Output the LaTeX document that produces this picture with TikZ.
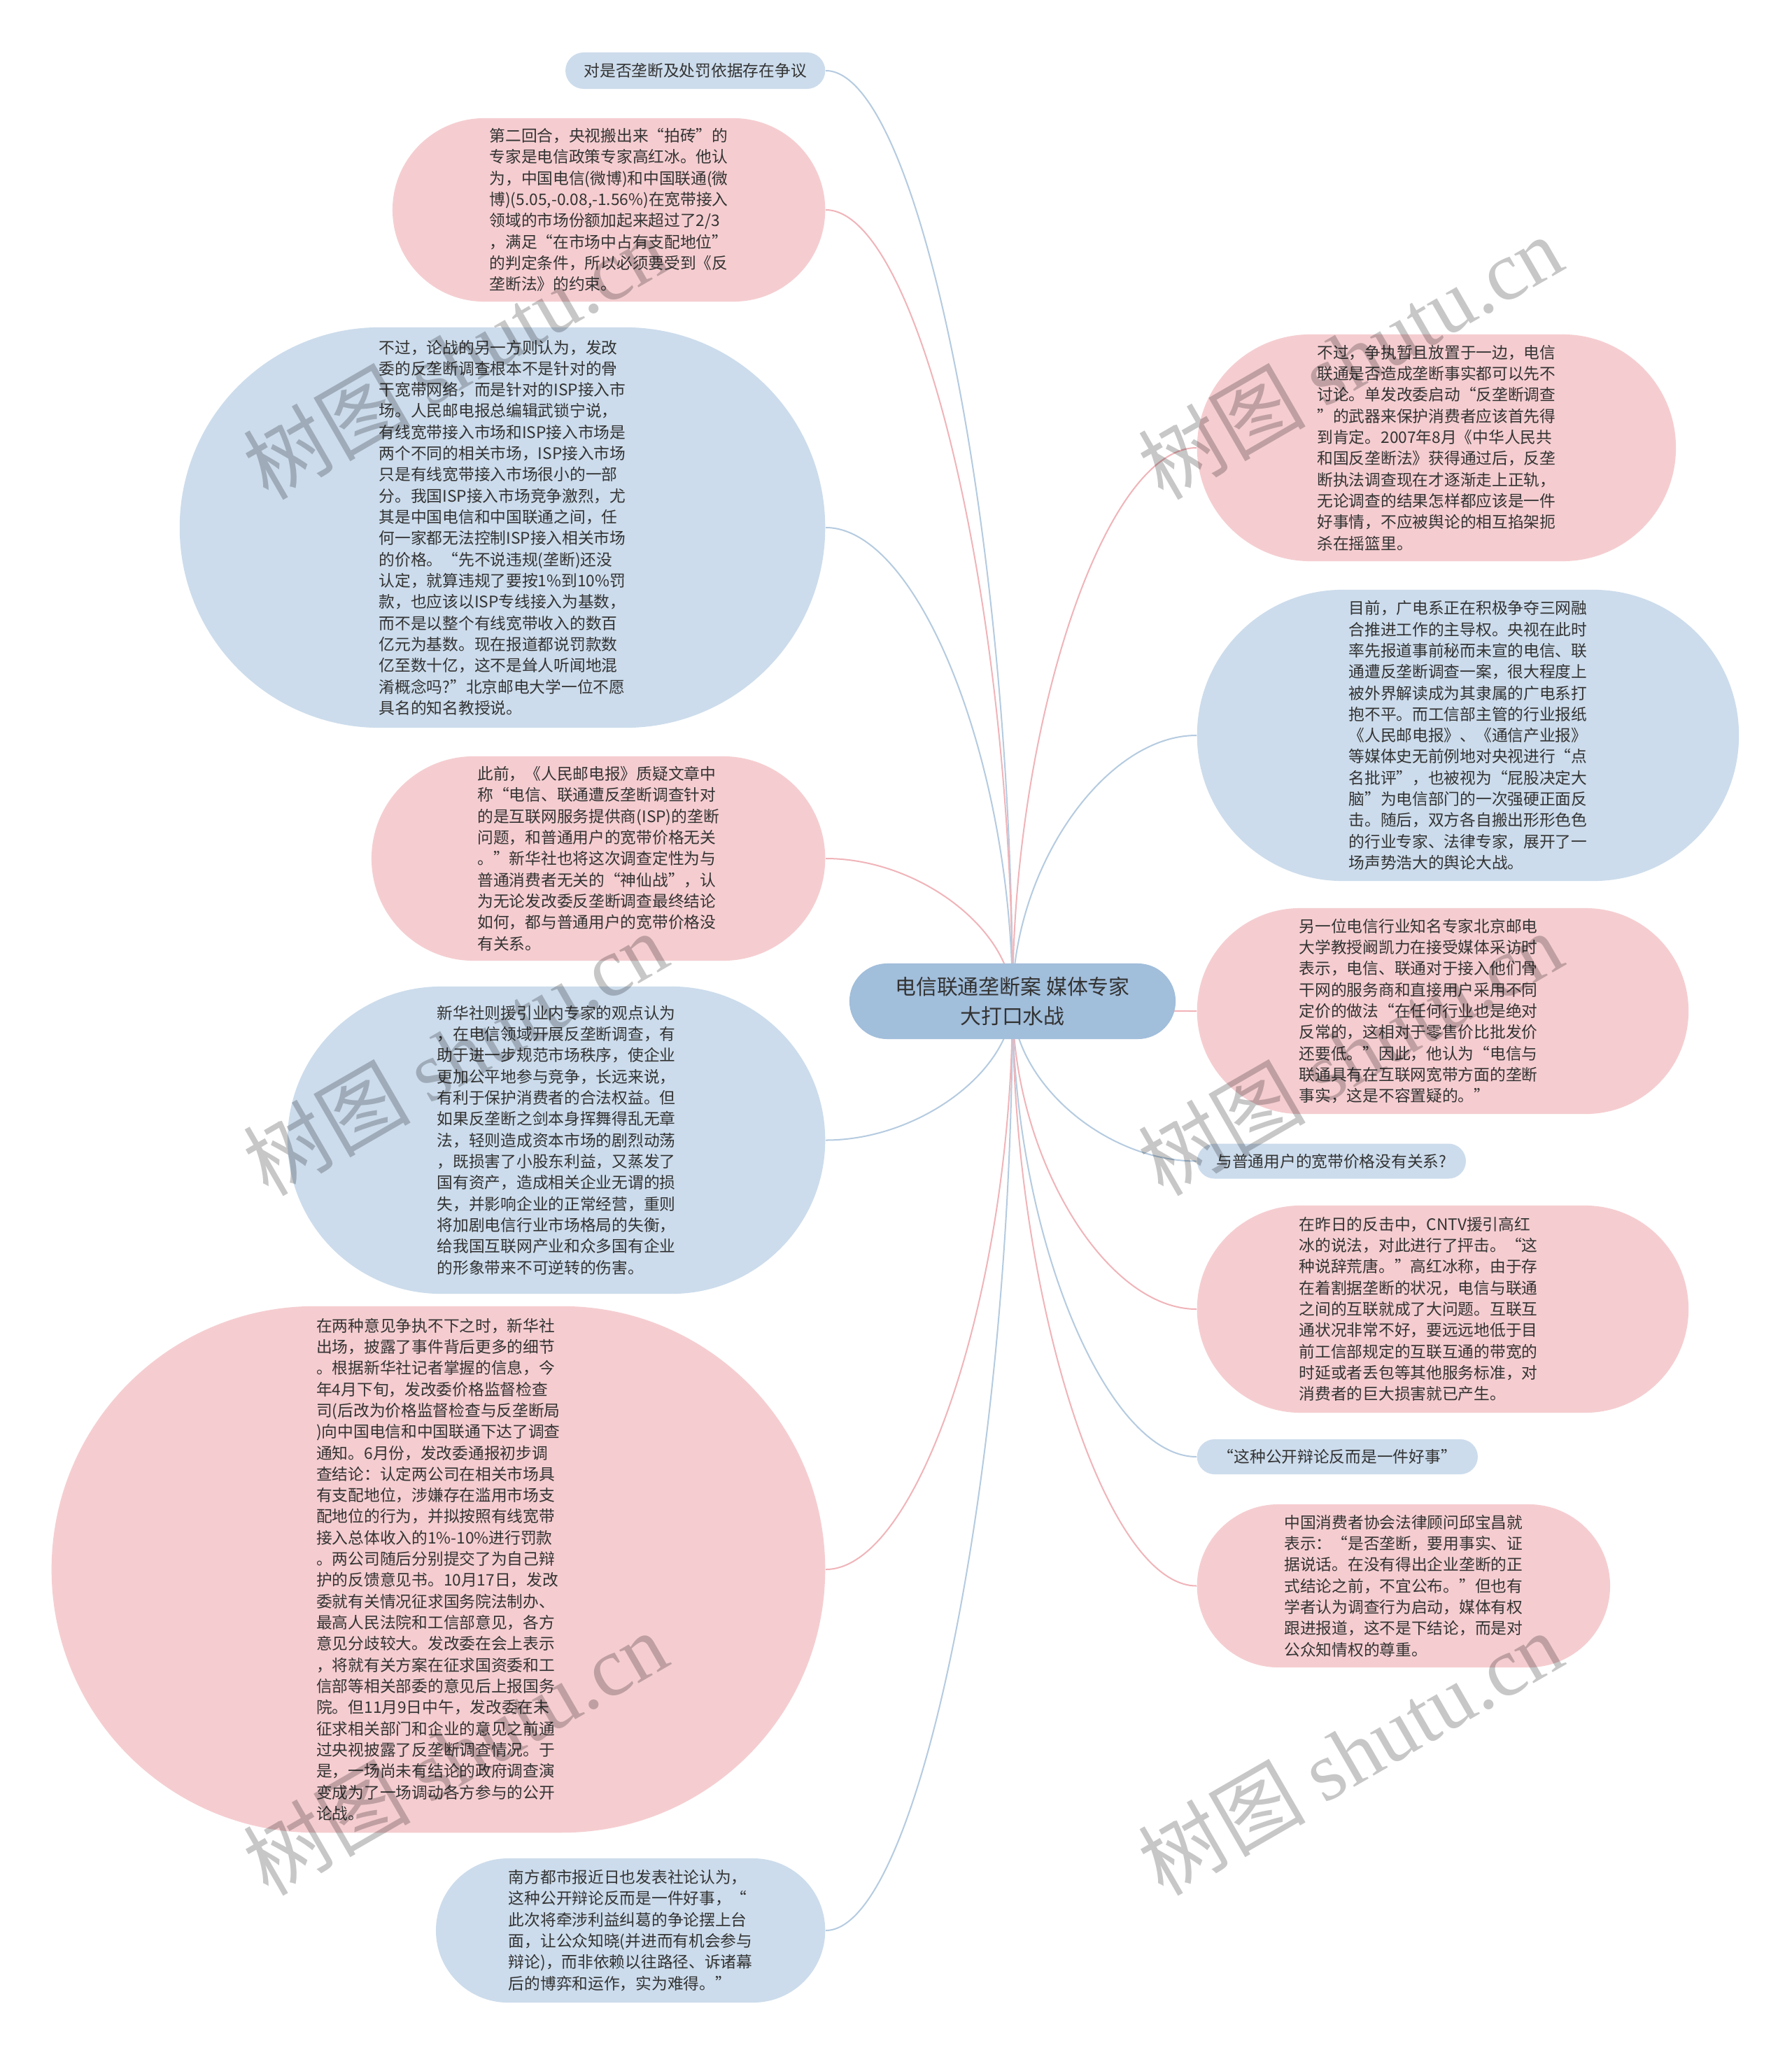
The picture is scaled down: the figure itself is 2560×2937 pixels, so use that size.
\documentclass[tikz,border=0pt]{standalone}
\usepackage{fontspec}
\setmainfont{Noto Sans CJK SC}
\newfontfamily\wmlatin{Liberation Serif}
\usetikzlibrary{calc}
\definecolor{pinkfill}{HTML}{F5CDD0}
\definecolor{bluefill}{HTML}{CCDCEC}
\definecolor{rootfill}{HTML}{A1BEDB}
\definecolor{pinkline}{HTML}{F0B4B9}
\definecolor{blueline}{HTML}{B5CBE0}
\definecolor{txt}{HTML}{333333}
\pgfdeclarelayer{back}
\pgfdeclarelayer{bg}
\pgfsetlayers{back,bg,main}
\tikzset{
  mm/.style={rectangle, inner sep=0pt, align=left, text=txt,
    font=\fontsize{6.46pt}{8.62pt}\selectfont},
  sz/.style n args={3}{minimum width=#1, minimum height=#2, rounded corners=#3},
  pk/.style={mm, fill=pinkfill},
  bl/.style={mm, fill=bluefill},
  lnk/.style={line width=0.57pt},
  wm/.style={rotate=30, text=black, text opacity=0.22,
    font=\fontsize{34pt}{34pt}\selectfont},
}
\begin{document}
\begin{tikzpicture}[x=0.01cm, y=-0.01cm]
\begin{pgfonlayer}{back}
\path[use as bounding box, fill=white] (0,0) rectangle (2560,2937);
\end{pgfonlayer}

% root
\node[mm, fill=rootfill, align=center, sz={4.66cm}{1.08cm}{0.54cm},
  font=\fontsize{8.5pt}{11.7pt}\selectfont] (root) at (1447,1431)
  {电信联通垄断案 媒体专家\\大打口水战};

% left nodes
\node[bl, anchor=east, sz={3.71cm}{0.52cm}{0.26cm}] (L1) at (1180,101)
  {对是否垄断及处罚依据存在争议};

\node[pk, anchor=east, sz={6.18cm}{2.62cm}{1.31cm}] (L2) at (1180,300)
  {第二回合，央视搬出来“拍砖”的\\
专家是电信政策专家高红冰。他认\\
为，中国电信(微博)和中国联通(微\\
博)(5.05,-0.08,-1.56\%)在宽带接入\\
领域的市场份额加起来超过了2/3\\
，满足“在市场中占有支配地位”\\
的判定条件，所以必须要受到《反\\
垄断法》的约束。};

\node[bl, anchor=east, sz={9.22cm}{5.72cm}{2.86cm}] (L3) at (1180,754)
  {不过，论战的另一方则认为，发改\\
委的反垄断调查根本不是针对的骨\\
干宽带网络，而是针对的ISP接入市\\
场。人民邮电报总编辑武锁宁说，\\
有线宽带接入市场和ISP接入市场是\\
两个不同的相关市场，ISP接入市场\\
只是有线宽带接入市场很小的一部\\
分。我国ISP接入市场竞争激烈，尤\\
其是中国电信和中国联通之间，任\\
何一家都无法控制ISP接入相关市场\\
的价格。“先不说违规(垄断)还没\\
认定，就算违规了要按1\%到10\%罚\\
款，也应该以ISP专线接入为基数，\\
而不是以整个有线宽带收入的数百\\
亿元为基数。现在报道都说罚款数\\
亿至数十亿，这不是耸人听闻地混\\
淆概念吗?”北京邮电大学一位不愿\\
具名的知名教授说。};

\node[pk, anchor=east, sz={6.48cm}{2.92cm}{1.46cm}] (L4) at (1180,1227)
  {此前，《人民邮电报》质疑文章中\\
称“电信、联通遭反垄断调查针对\\
的是互联网服务提供商(ISP)的垄断\\
问题，和普通用户的宽带价格无关\\
。”新华社也将这次调查定性为与\\
普通消费者无关的“神仙战”，认\\
为无论发改委反垄断调查最终结论\\
如何，都与普通用户的宽带价格没\\
有关系。};

\node[bl, anchor=east, sz={7.68cm}{4.39cm}{2.195cm}] (L5) at (1180,1629.5)
  {新华社则援引业内专家的观点认为\\
，在电信领域开展反垄断调查，有\\
助于进一步规范市场秩序，使企业\\
更加公平地参与竞争，长远来说，\\
有利于保护消费者的合法权益。但\\
如果反垄断之剑本身挥舞得乱无章\\
法，轻则造成资本市场的剧烈动荡\\
，既损害了小股东利益，又蒸发了\\
国有资产，造成相关企业无谓的损\\
失，并影响企业的正常经营，重则\\
将加剧电信行业市场格局的失衡，\\
给我国互联网产业和众多国有企业\\
的形象带来不可逆转的伤害。};

\node[pk, anchor=east, sz={11.05cm}{7.52cm}{3.76cm}] (L6) at (1180,2243)
  {在两种意见争执不下之时，新华社\\
出场，披露了事件背后更多的细节\\
。根据新华社记者掌握的信息，今\\
年4月下旬，发改委价格监督检查\\
司(后改为价格监督检查与反垄断局\\
)向中国电信和中国联通下达了调查\\
通知。6月份，发改委通报初步调\\
查结论：认定两公司在相关市场具\\
有支配地位，涉嫌存在滥用市场支\\
配地位的行为，并拟按照有线宽带\\
接入总体收入的1\%-10\%进行罚款\\
。两公司随后分别提交了为自己辩\\
护的反馈意见书。10月17日，发改\\
委就有关情况征求国务院法制办、\\
最高人民法院和工信部意见，各方\\
意见分歧较大。发改委在会上表示\\
，将就有关方案在征求国资委和工\\
信部等相关部委的意见后上报国务\\
院。但11月9日中午，发改委在未\\
征求相关部门和企业的意见之前通\\
过央视披露了反垄断调查情况。于\\
是，一场尚未有结论的政府调查演\\
变成为了一场调动各方参与的公开\\
论战。};

\node[bl, anchor=east, sz={5.56cm}{2.06cm}{1.03cm}] (L7) at (1180,2759)
  {南方都市报近日也发表社论认为，\\
这种公开辩论反而是一件好事，“\\
此次将牵涉利益纠葛的争论摆上台\\
面，让公众知晓(并进而有机会参与\\
辩论)，而非依赖以往路径、诉诸幕\\
后的博弈和运作，实为难得。”};

% right nodes
\node[pk, anchor=west, sz={6.84cm}{3.24cm}{1.62cm}] (R1) at (1710,640)
  {不过，争执暂且放置于一边，电信\\
联通是否造成垄断事实都可以先不\\
讨论。单发改委启动“反垄断调查\\
”的武器来保护消费者应该首先得\\
到肯定。2007年8月《中华人民共\\
和国反垄断法》获得通过后，反垄\\
断执法调查现在才逐渐走上正轨，\\
无论调查的结果怎样都应该是一件\\
好事情，不应被舆论的相互掐架扼\\
杀在摇篮里。};

\node[bl, anchor=west, sz={7.74cm}{4.16cm}{2.08cm}] (R2) at (1710,1051)
  {目前，广电系正在积极争夺三网融\\
合推进工作的主导权。央视在此时\\
率先报道事前秘而未宣的电信、联\\
通遭反垄断调查一案，很大程度上\\
被外界解读成为其隶属的广电系打\\
抱不平。而工信部主管的行业报纸\\
《人民邮电报》、《通信产业报》\\
等媒体史无前例地对央视进行“点\\
名批评”，也被视为“屁股决定大\\
脑”为电信部门的一次强硬正面反\\
击。随后，双方各自搬出形形色色\\
的行业专家、法律专家，展开了一\\
场声势浩大的舆论大战。};

\node[pk, anchor=west, sz={7.02cm}{2.94cm}{1.47cm}, text width=4.10cm] (R3) at (1710,1445)
  {另一位电信行业知名专家北京邮电\\
大学教授阚凯力在接受媒体采访时\\
表示，电信、联通对于接入他们骨\\
干网的服务商和直接用户采用不同\\
定价的做法“在任何行业也是绝对\\
反常的，这相对于零售价比批发价\\
还要低。”因此，他认为“电信与\\
联通具有在互联网宽带方面的垄断\\
事实，这是不容置疑的。”};

\node[bl, anchor=west, sz={3.84cm}{0.50cm}{0.25cm}] (R4) at (1710,1659.5)
  {与普通用户的宽带价格没有关系?};

\node[pk, anchor=west, sz={7.02cm}{2.96cm}{1.48cm}, text width=4.10cm] (R5) at (1710,1871)
  {在昨日的反击中，CNTV援引高红\\
冰的说法，对此进行了抨击。“这\\
种说辞荒唐。”高红冰称，由于存\\
在着割据垄断的状况，电信与联通\\
之间的互联就成了大问题。互联互\\
通状况非常不好，要远远地低于目\\
前工信部规定的互联互通的带宽的\\
时延或者丢包等其他服务标准，对\\
消费者的巨大损害就已产生。};

\node[bl, anchor=west, sz={4.01cm}{0.50cm}{0.25cm}] (R6) at (1710,2082)
  {“这种公开辩论反而是一件好事”};

\node[pk, anchor=west, sz={5.90cm}{2.33cm}{1.165cm}] (R7) at (1710,2266.5)
  {中国消费者协会法律顾问邱宝昌就\\
表示：“是否垄断，要用事实、证\\
据说话。在没有得出企业垄断的正\\
式结论之前，不宜公布。”但也有\\
学者认为调查行为启动，媒体有权\\
跟进报道，这不是下结论，而是对\\
公众知情权的尊重。};

% connectors
\begin{pgfonlayer}{bg}
\foreach \n/\c in {L1/blueline,L2/pinkline,L3/blueline,L4/pinkline,L5/blueline,L6/pinkline,L7/blueline}
  \draw[lnk, draw=\c] (root.center) .. controls ($(root.center)!0.5!(root.center |- \n.east)$)
    and ($(root.center |- \n.east)!0.5!(\n.east)$) .. (\n.east);
\foreach \n/\c in {R1/pinkline,R2/blueline,R3/pinkline,R4/blueline,R5/pinkline,R6/blueline,R7/pinkline}
  \draw[lnk, draw=\c] (root.center) .. controls ($(root.center)!0.5!(root.center |- \n.west)$)
    and ($(root.center |- \n.west)!0.5!(\n.west)$) .. (\n.west);
\end{pgfonlayer}

% watermarks
\node[wm] (wm1) at (650,510) {树图 {\wmlatin shutu.cn}};
\node[wm] (wm2) at (650,1505) {树图 {\wmlatin shutu.cn}};
\node[wm] (wm3) at (650,2505) {树图 {\wmlatin shutu.cn}};
\node[wm] (wm4) at (1929,510) {树图 {\wmlatin shutu.cn}};
\node[wm] (wm5) at (1929,1505) {树图 {\wmlatin shutu.cn}};
\node[wm] (wm6) at (1929,2505) {树图 {\wmlatin shutu.cn}};
\end{tikzpicture}
\end{document}
